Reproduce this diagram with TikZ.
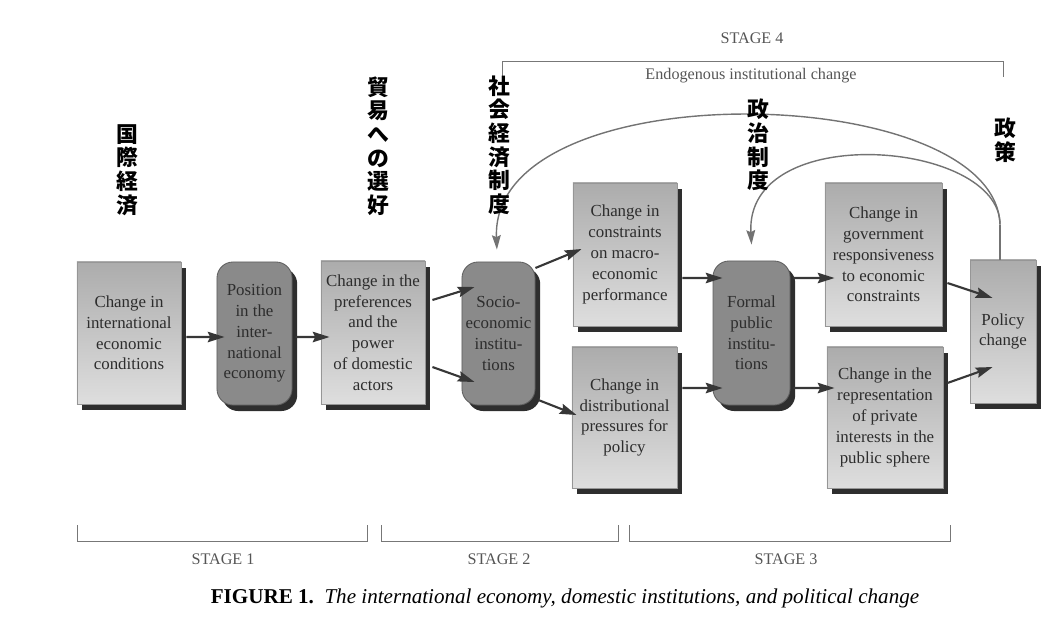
\documentclass[tikz,border=0pt]{standalone}
\usepackage{fontspec}
\setmainfont{Liberation Serif}
\newfontfamily\jp{Noto Sans CJK JP}
\usetikzlibrary{arrows.meta, shadows}

\definecolor{boxtop}{RGB}{172,172,172}
\definecolor{boxbot}{RGB}{222,222,222}
\definecolor{boxedge}{RGB}{150,150,150}
\definecolor{instfill}{RGB}{138,138,138}
\definecolor{instedge}{RGB}{95,95,95}
\definecolor{boxtext}{RGB}{45,45,45}
\definecolor{arrowcol}{RGB}{55,55,55}
\definecolor{loopcol}{RGB}{115,115,115}
\definecolor{stagecol}{RGB}{85,85,85}

\tikzset{
  boxbase/.style={align=center, inner sep=0pt, text=boxtext,
    font=\fontsize{12}{14.8}\selectfont,
    drop shadow={shadow xshift=0.13cm, shadow yshift=-0.15cm, fill=black!82, opacity=1}},
  lightbox/.style={boxbase, draw=boxedge, line width=0.6pt, top color=boxtop, bottom color=boxbot},
  roundbox/.style={boxbase, draw=instedge, line width=0.6pt, fill=instfill, rounded corners=0.4cm},
  flow/.style={draw=arrowcol, line width=1.5pt, -{Stealth[length=0.42cm, width=0.26cm, inset=0.06cm]}},
  feedback/.style={draw=loopcol, line width=1pt},
  bracket/.style={draw=stagecol!80, line width=0.7pt},
  stagelabel/.style={text=stagecol, font=\fontsize{11.5}{13}\selectfont, inner sep=0pt},
  jplabel/.style={font=\jp\bfseries\fontsize{15.5}{16.8}\selectfont, align=center, inner sep=0pt, text=black}
}

\begin{document}
\begin{tikzpicture}[x=0.025cm, y=-0.025cm]
  \useasboundingbox (0,0) rectangle (1064,640);

  % stage 1
  \node[lightbox, minimum width=2.6cm, minimum height=3.55cm] (intl) at (129,333)
    {Change in\\international\\economic\\conditions};
  \node[roundbox, minimum width=1.875cm, minimum height=3.575cm] (posn) at (254.5,333.5)
    {Position\\in the\\inter-\\national\\economy};
  \node[lightbox, minimum width=2.6cm, minimum height=3.575cm] (pref) at (373,332.5)
    {Change in the\\preferences\\and the\\power\\of domestic\\actors};

  % stage 2
  \node[roundbox, minimum width=1.825cm, minimum height=3.575cm] (socio) at (498.5,333.5)
    {Socio-\\economic\\institu-\\tions};
  \node[lightbox, minimum width=2.6cm, minimum height=3.575cm] (macro) at (625,254.5)
    {Change in\\constraints\\on macro-\\economic\\performance};
  \node[lightbox, minimum width=2.625cm, minimum height=3.525cm] (distr) at (624.5,417.5)
    {Change in\\distributional\\pressures for\\policy};

  % stage 3
  \node[roundbox, minimum width=1.925cm, minimum height=3.6cm] (formal) at (751.5,333)
    {Formal\\public\\institu-\\tions};
  \node[lightbox, minimum width=2.925cm, minimum height=3.575cm] (govt) at (883.5,254.5)
    {Change in\\government\\responsiveness\\to economic\\constraints};
  \node[lightbox, minimum width=2.9cm, minimum height=3.525cm] (repr) at (885,417.5)
    {Change in the\\representation\\of private\\interests in the\\public sphere};
  \node[lightbox, minimum width=1.65cm, minimum height=3.575cm] (policy) at (1003,331.5)
    {Policy\\change};

  % arrows
  \draw[flow] ([xshift=0.125cm, yshift=-0.1cm]intl.east) -- ([xshift=0.2cm, yshift=-0.0875cm]posn.west);
  \draw[flow] ([xshift=0.075cm, yshift=-0.0875cm]posn.east) -- ([xshift=0.225cm, yshift=-0.1125cm]pref.west);
  \draw[flow] ([xshift=0.175cm, yshift=0.8125cm]pref.east) -- ([xshift=0.325cm, yshift=1.1625cm]socio.west);
  \draw[flow] ([xshift=0.175cm, yshift=-0.8625cm]pref.east) -- ([xshift=0.325cm, yshift=-1.2125cm]socio.west);
  \draw[flow] ([yshift=1.6375cm]socio.east) -- ([xshift=0.225cm, yshift=0.1375cm]macro.west);
  \draw[flow] ([xshift=0.075cm, yshift=-1.6625cm]socio.east) -- ([xshift=0.125cm, yshift=0.0625cm]distr.west);
  \draw[flow] ([xshift=0.125cm, yshift=-0.5875cm]macro.east) -- ([xshift=0.25cm, yshift=1.375cm]formal.west);
  \draw[flow] ([xshift=0.125cm, yshift=0.7375cm]distr.east) -- ([xshift=0.25cm, yshift=-1.375cm]formal.west);
  \draw[flow] ([xshift=0.075cm, yshift=1.375cm]formal.east) -- ([xshift=0.25cm, yshift=-0.5875cm]govt.west);
  \draw[flow] ([xshift=0.075cm, yshift=-1.375cm]formal.east) -- ([xshift=0.2cm, yshift=0.7375cm]repr.west);
  \draw[flow] ([xshift=0.125cm, yshift=-0.7125cm]govt.east) -- ([xshift=0.575cm, yshift=0.8375cm]policy.west);
  \draw[flow] ([xshift=0.1cm, yshift=0.8625cm]repr.east) -- ([xshift=0.575cm, yshift=-0.8875cm]policy.west);

  % feedback loops
  \coordinate (fork) at ([xshift=-0.075cm, yshift=0.875cm]policy.north);
  \draw[feedback] ([xshift=-0.075cm]policy.north) -- (fork);
  \draw[feedback, -{Stealth[length=0.36cm, width=0.22cm, inset=0.05cm]}]
    (fork) .. controls (995,80) and (490,70) .. ([xshift=-0.04cm, yshift=0.3cm]socio.north);
  \draw[feedback, -{Stealth[length=0.36cm, width=0.22cm, inset=0.05cm]}]
    (fork) .. controls (1000,140) and (745,120) .. ([yshift=0.4cm]formal.north);

  % stage brackets
  \draw[bracket] (502,77) -- (502,61) -- (1003,61) -- (1003,77);
  \node[stagelabel] (st4) at (752,38) {STAGE 4};
  \node[stagelabel] (endo) at (751,76) {Endogenous institutional change};
  \draw[bracket] (77,525) -- (77,541) -- (367,541) -- (367,525);
  \draw[bracket] (381,525) -- (381,541) -- (618,541) -- (618,525);
  \draw[bracket] (629,525) -- (629,541) -- (950,541) -- (950,525);
  \node[stagelabel] (st1) at (223,559) {STAGE 1};
  \node[stagelabel] (st2) at (499,559) {STAGE 2};
  \node[stagelabel] (st3) at (786,559) {STAGE 3};

  % caption
  \node[font=\fontsize{15}{17}\selectfont, inner sep=0pt] (cap) at (565,598)
    {\textbf{FIGURE 1.}\enspace\textit{The international economy, domestic institutions, and political change}};

  % japanese labels
  \node[jplabel] (jintl) at (127,170) {国\\際\\経\\済};
  \node[jplabel] (jpref) at (378,146) {貿\\易\\へ\\の\\選\\好};
  \node[jplabel] (jsocio) at (499,145) {社\\会\\経\\済\\制\\度};
  \node[jplabel] (jformal) at (758,145) {政\\治\\制\\度};
  \node[jplabel] (jpolicy) at (1005,140) {政\\策};
\end{tikzpicture}
\end{document}
